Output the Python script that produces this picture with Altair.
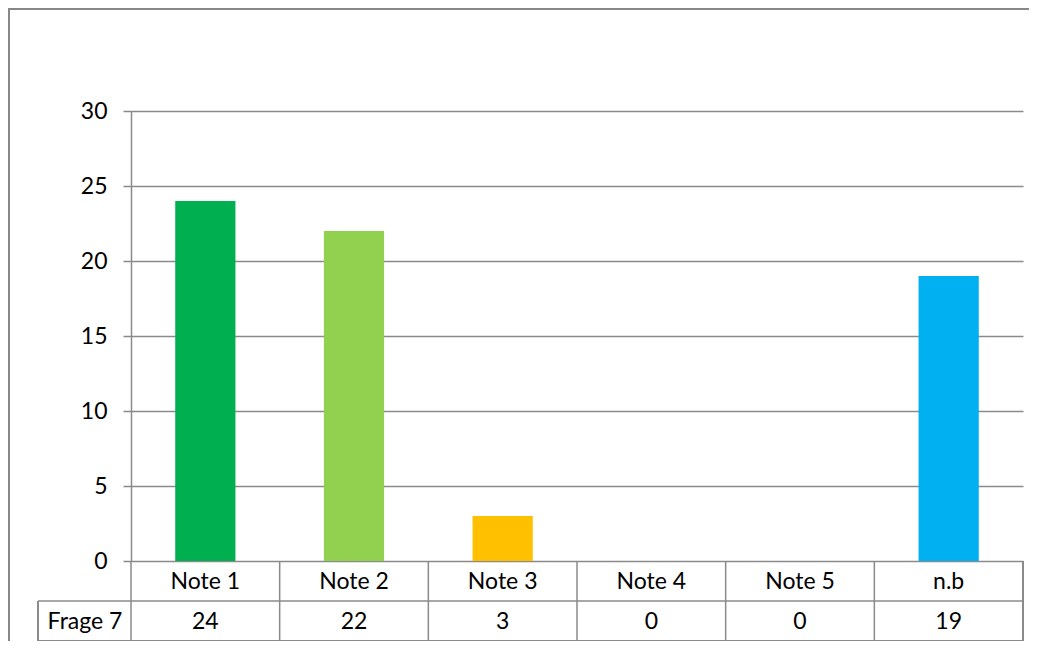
import altair as alt
import pandas as pd

categories = ["Note 1", "Note 2", "Note 3", "Note 4", "Note 5", "n.b"]
values = [24, 22, 3, 0, 0, 19]
colors = ["#00B050", "#92D050", "#FFC000", "#5B9BD5", "#ED7D31", "#00B0F0"]
series_label = "Frage 7"
y_ticks = [0, 5, 10, 15, 20, 25, 30]

df = pd.DataFrame({"cat": categories, "val": values, "col": colors})

W, H = 892, 450
GRAY = "#8a8a8a"
FONT = "Lato"
FS = 23

xscale = alt.Scale(domain=categories, paddingInner=0, paddingOuter=0)
yscale = alt.Scale(domain=[0, 30], nice=False)

bars = alt.Chart(df).mark_bar(width={"band": 0.405}).encode(
    x=alt.X("cat:N", scale=xscale, sort=categories, axis=None),
    y=alt.Y("val:Q", scale=yscale,
            axis=alt.Axis(values=y_ticks, grid=True, gridColor=GRAY, gridWidth=1.5,
                          tickSize=8, tickColor=GRAY, tickWidth=1.5,
                          domainColor=GRAY, domainWidth=1.5,
                          labelFont=FONT, labelFontSize=FS, labelColor="black",
                          labelPadding=16, title=None)),
    color=alt.Color("col:N", scale=None),
)

# table vertical lines at category band edges
left_edges = alt.Chart(df).mark_rule(color=GRAY, strokeWidth=1.5).encode(
    x=alt.X("cat:N", scale=xscale, sort=categories, bandPosition=0),
    y=alt.value(H), y2=alt.value(H + 80),
)
right_edge = alt.Chart(df.tail(1)).mark_rule(color=GRAY, strokeWidth=2).encode(
    x=alt.X("cat:N", scale=xscale, sort=categories, bandPosition=1),
    y=alt.value(H), y2=alt.value(H + 80),
)

one = pd.DataFrame({"a": [0]})
hline1 = alt.Chart(one).mark_rule(color=GRAY, strokeWidth=1.5).encode(
    x=alt.value(-93), x2=alt.value(W), y=alt.value(H + 40))
hline2 = alt.Chart(one).mark_rule(color=GRAY, strokeWidth=2).encode(
    x=alt.value(-93), x2=alt.value(W), y=alt.value(H + 80))
vleft = alt.Chart(one).mark_rule(color=GRAY, strokeWidth=2).encode(
    x=alt.value(-93), y=alt.value(H + 40), y2=alt.value(H + 80))

cat_text = alt.Chart(df).mark_text(font=FONT, fontSize=FS, color="black", baseline="middle").encode(
    x=alt.X("cat:N", scale=xscale, sort=categories),
    y=alt.value(H + 21),
    text="cat:N",
)
val_text = alt.Chart(df).mark_text(font=FONT, fontSize=FS, color="black", baseline="middle").encode(
    x=alt.X("cat:N", scale=xscale, sort=categories),
    y=alt.value(H + 61),
    text="val:Q",
)
label_text = alt.Chart(pd.DataFrame({"t": [series_label]})).mark_text(
    font=FONT, fontSize=FS, color="black", baseline="middle").encode(
    x=alt.value(-46), y=alt.value(H + 61), text="t:N")

border_top = alt.Chart(one).mark_rule(color="#878787", strokeWidth=2).encode(
    x=alt.value(-123), x2=alt.value(W + 10), y=alt.value(-102))
border_left = alt.Chart(one).mark_rule(color="#878787", strokeWidth=2).encode(
    x=alt.value(-122), y=alt.value(-103), y2=alt.value(H + 100))

chart = alt.layer(
    bars, left_edges, right_edge, hline1, hline2, vleft,
    cat_text, val_text, label_text, border_top, border_left,
).properties(
    width=W, height=H,
    autosize=alt.AutoSizeParams(type="none"),
    padding={"left": 123, "top": 103, "right": 6, "bottom": 80},
).configure_view(stroke=None)

chart.save("out.html", embed_options={"renderer": "svg", "actions": False})
